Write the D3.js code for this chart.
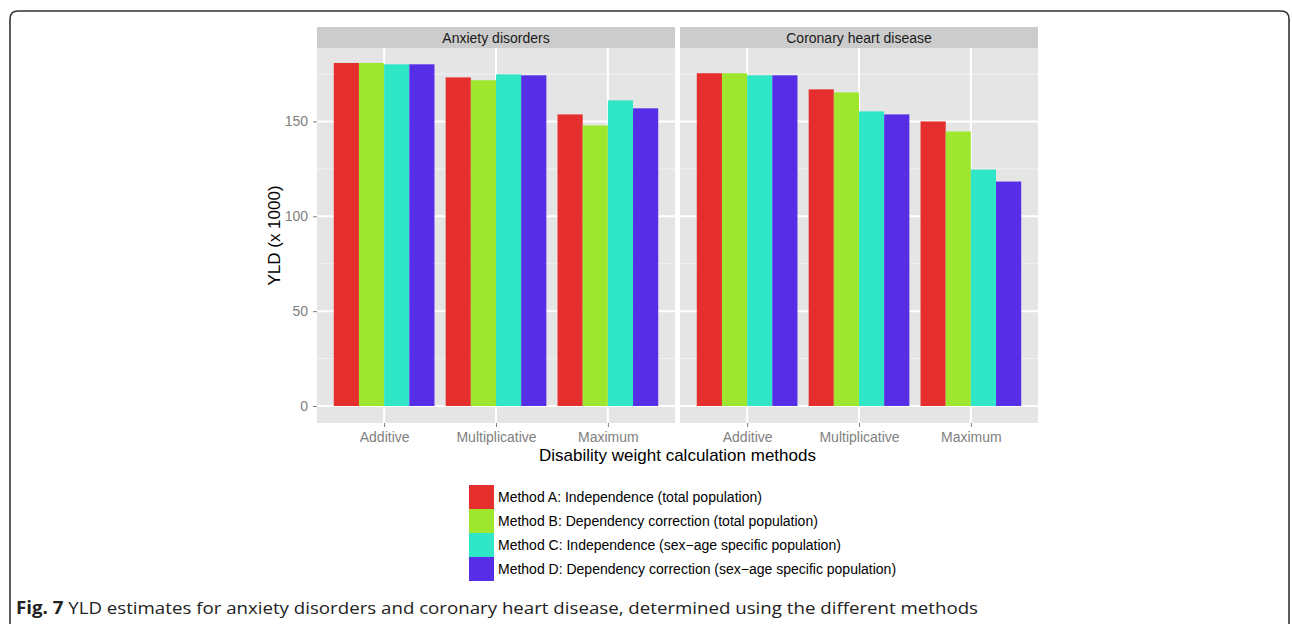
<!DOCTYPE html>
<html>
<head>
<meta charset="utf-8">
<script src="https://cdn.jsdelivr.net/npm/d3@7"></script>
<style>
  html, body { margin: 0; padding: 0; background: #fff; }
  svg { display: block; }
</style>
</head>
<body>
<svg id="chart" width="1292" height="624"></svg>
<script>
// Diseases shown as facets
const diseases = ["Anxiety disorders", "Coronary heart disease"];
// Disability weight calculation methods (x categories)
const methods = ["Additive", "Multiplicative", "Maximum"];
// Series (fill legend)
const series = [
  "Method A: Independence (total population)",
  "Method B: Dependency correction (total population)",
  "Method C: Independence (sex\u2212age specific population)",
  "Method D: Dependency correction (sex\u2212age specific population)"
];
const seriesColors = ["#E52F2F", "#9FE62F", "#2FE6C6", "#552EE6"];

// YLD (x 1000) per method, rows = Additive, Multiplicative, Maximum; columns = A..D
const anxietyValues = [
  [180.8, 180.8, 180.1, 180.1],
  [173.2, 171.7, 174.8, 174.3],
  [153.7, 147.9, 161.1, 156.9]
];
const chdValues = [
  [175.4, 175.4, 174.3, 174.3],
  [166.9, 165.3, 155.3, 153.7],
  [150.0, 144.7, 124.6, 118.3]
];
const yTicks = [0, 50, 100, 150];
const yMinor = [25, 75, 125, 175];

const panelValues = [anxietyValues, chdValues];

const svg = d3.select("#chart");

// Outer rounded frame
svg.append("path")
  .attr("d", "M10,640 L10,19 Q10,11 18,11 L1281,11 Q1289,11 1289,19 L1289,640")
  .attr("fill", "none")
  .attr("stroke", "#333")
  .attr("stroke-width", 1.6);

const panelTop = 48, panelBottom = 423;
const panels = [{ x0: 317, x1: 675 }, { x0: 680, x1: 1038 }];

const y = d3.scaleLinear().domain([-8.96, 188.7]).range([panelBottom, panelTop]);

const font = "Liberation Sans, Arial, Helvetica, sans-serif";

panels.forEach((p, pi) => {
  const g = svg.append("g");
  // discrete positions: centre of category i at x0 + (i + 0.6) * unit
  const unit = (p.x1 - p.x0) / 3.2;
  const cx = d3.scalePoint().domain(methods).range([p.x0 + 0.6 * unit, p.x1 - 0.6 * unit]);
  const sub = d3.scaleBand().domain(d3.range(series.length)).range([-0.45 * unit, 0.45 * unit]);

  // panel background
  g.append("rect")
    .attr("x", p.x0).attr("y", panelTop)
    .attr("width", p.x1 - p.x0).attr("height", panelBottom - panelTop)
    .attr("fill", "#E5E5E5");

  // minor gridlines
  g.selectAll(".minor").data(yMinor).join("line")
    .attr("x1", p.x0).attr("x2", p.x1)
    .attr("y1", d => y(d)).attr("y2", d => y(d))
    .attr("stroke", "#F2F2F2").attr("stroke-width", 1);

  // major gridlines
  g.selectAll(".major").data(yTicks).join("line")
    .attr("x1", p.x0).attr("x2", p.x1)
    .attr("y1", d => y(d)).attr("y2", d => y(d))
    .attr("stroke", "#fff").attr("stroke-width", 2);
  g.selectAll(".vmajor").data(methods).join("line")
    .attr("x1", d => cx(d)).attr("x2", d => cx(d))
    .attr("y1", panelTop).attr("y2", panelBottom)
    .attr("stroke", "#fff").attr("stroke-width", 2);

  // bars
  panelValues[pi].forEach((row, mi) => {
    row.forEach((v, si) => {
      g.append("rect")
        .attr("x", cx(methods[mi]) + sub(si))
        .attr("y", y(v))
        .attr("width", sub.bandwidth())
        .attr("height", y(0) - y(v))
        .attr("fill", seriesColors[si]);
    });
  });

  // strip
  g.append("rect")
    .attr("x", p.x0).attr("y", 27)
    .attr("width", p.x1 - p.x0).attr("height", panelTop - 27)
    .attr("fill", "#CCCCCC");
  g.append("text")
    .attr("x", (p.x0 + p.x1) / 2).attr("y", 42.5)
    .attr("text-anchor", "middle")
    .attr("font-family", font).attr("font-size", 14)
    .attr("fill", "#1A1A1A")
    .text(diseases[pi]);

  // x axis ticks and labels
  const xAxis = d3.axisBottom(cx).tickSize(4).tickPadding(5);
  const xa = svg.append("g").attr("transform", `translate(0,${panelBottom})`).call(xAxis);
  xa.select(".domain").remove();
  xa.selectAll(".tick line").attr("stroke", "#7F7F7F").attr("stroke-width", 1);
  xa.selectAll(".tick text")
    .attr("font-family", font).attr("font-size", 14)
    .attr("fill", "#7F7F7F");
});

// y axis
const yAxis = d3.axisLeft(y).tickValues(yTicks).tickSize(4).tickPadding(5);
const ya = svg.append("g").attr("transform", `translate(${panels[0].x0},0)`).call(yAxis);
ya.select(".domain").remove();
ya.selectAll(".tick line").attr("stroke", "#7F7F7F").attr("stroke-width", 1);
ya.selectAll(".tick text")
  .attr("font-family", font).attr("font-size", 14)
  .attr("fill", "#7F7F7F");

// axis titles
svg.append("text")
  .attr("x", (panels[0].x0 + panels[1].x1) / 2).attr("y", 461)
  .attr("text-anchor", "middle")
  .attr("font-family", font).attr("font-size", 17)
  .attr("fill", "#000")
  .text("Disability weight calculation methods");

svg.append("text")
  .attr("transform", `translate(274,${(panelTop + panelBottom) / 2}) rotate(-90)`)
  .attr("text-anchor", "middle")
  .attr("dominant-baseline", "central")
  .attr("font-family", font).attr("font-size", 17)
  .attr("fill", "#000")
  .text("YLD (x 1000)");

// legend
const legend = svg.append("g").attr("transform", "translate(469,485)");
series.forEach((s, i) => {
  legend.append("rect")
    .attr("x", 0).attr("y", i * 24)
    .attr("width", 25).attr("height", 24)
    .attr("fill", seriesColors[i]);
  legend.append("text")
    .attr("x", 29).attr("y", i * 24 + 12)
    .attr("dominant-baseline", "central")
    .attr("font-family", font).attr("font-size", 14)
    .attr("fill", "#000")
    .text(s);
});

// caption
const cap = svg.append("text")
  .attr("x", 16).attr("y", 614)
  .attr("font-family", "Open Sans, Noto Sans, sans-serif")
  .attr("font-size", 17)
  .attr("fill", "#222")
  .attr("textLength", 962)
  .attr("lengthAdjust", "spacingAndGlyphs");
cap.append("tspan").attr("font-weight", "bold").text("Fig. 7");
cap.append("tspan").text(" YLD estimates for anxiety disorders and coronary heart disease, determined using the different methods");
</script>
</body>
</html>
